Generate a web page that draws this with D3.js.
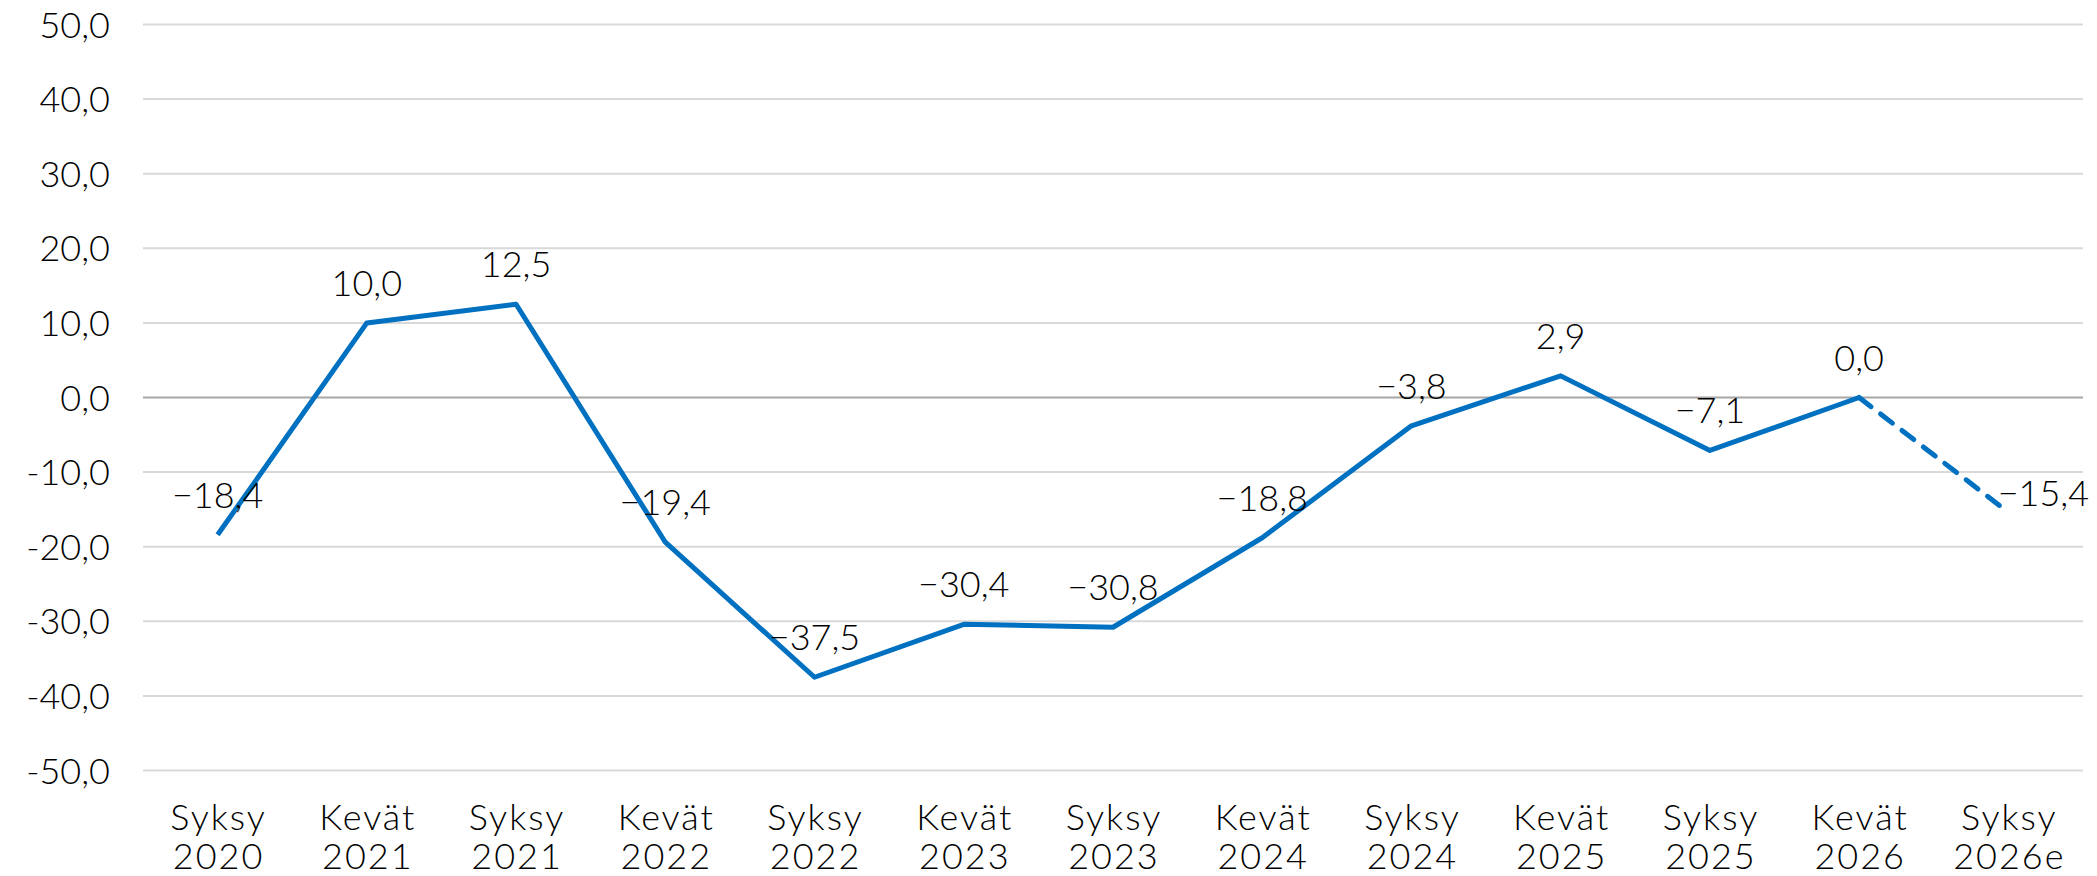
<!DOCTYPE html>
<html><head><meta charset="utf-8">
<script src="https://cdn.jsdelivr.net/npm/d3@7"></script>
<style>
html,body{margin:0;padding:0;background:#fff;}
svg{display:block;}
text{font-family:Lato,"Noto Sans",sans-serif;font-weight:300;fill:#000;}
</style></head><body>
<svg id="c" width="2097" height="876"></svg>
<script>
const seasons = ["Syksy","Kevät","Syksy","Kevät","Syksy","Kevät","Syksy","Kevät","Syksy","Kevät","Syksy","Kevät","Syksy"];
const years = ["2020","2021","2021","2022","2022","2023","2023","2024","2024","2025","2025","2026","2026e"];
const values = [-18.4, 10.0, 12.5, -19.4, -37.5, -30.4, -30.8, -18.8, -3.8, 2.9, -7.1, 0.0, -15.4];
const yTicks = [50, 40, 30, 20, 10, 0, -10, -20, -30, -40, -50];
const forecastFrom = 11; // index where dashed forecast segment starts

(function(){
const svg = d3.select("#c");
const pLeft = 143, pRight = 2083, pTop = 24.5, pBottom = 770.5;
const x = d3.scaleBand().domain(d3.range(values.length)).range([pLeft, pRight]);
const y = d3.scaleLinear().domain([-50, 50]).range([pBottom, pTop]);
const cx = i => x(i) + x.bandwidth() / 2;
const fmt = v => d3.format(".1f")(Math.abs(v)).replace(".", ",");

svg.append("g").selectAll("line").data(yTicks).join("line")
  .attr("x1", pLeft).attr("x2", pRight)
  .attr("y1", d => y(d)).attr("y2", d => y(d))
  .attr("stroke", d => d === 0 ? "#a6a6a6" : "#d9d9d9")
  .attr("stroke-width", 2);

svg.append("g").selectAll("text").data(yTicks).join("text")
  .attr("x", 110).attr("y", d => y(d) + 13)
  .attr("text-anchor", "end").attr("font-size", 36)
  .text(d => (d < 0 ? "-" : "") + fmt(d));

const xg = svg.append("g");
xg.selectAll("text.s").data(seasons).join("text").attr("class", "s")
  .attr("text-anchor", "middle").attr("font-size", 36).attr("letter-spacing", 2)
  .attr("x", (d, i) => cx(i) + 1).attr("y", 830).text(d => d);
xg.selectAll("text.yr").data(years).join("text").attr("class", "yr")
  .attr("text-anchor", "middle").attr("font-size", 36).attr("letter-spacing", 2)
  .attr("x", (d, i) => cx(i) + 1).attr("y", 869).text(d => d);

const line = d3.line().x(d => cx(d.i)).y(d => y(d.v));
const pts = values.map((v, i) => ({i, v}));
svg.append("path").datum(pts.slice(0, forecastFrom + 1))
  .attr("d", line).attr("fill", "none").attr("stroke", "#0070C0")
  .attr("stroke-width", 5).attr("stroke-linejoin", "round");
svg.append("path").datum(pts.slice(forecastFrom))
  .attr("d", line).attr("fill", "none").attr("stroke", "#0070C0")
  .attr("stroke-width", 5).attr("stroke-dasharray", "15,12").attr("stroke-linecap", "round");

svg.append("g").selectAll("text").data(pts).join("text")
  .attr("font-size", 36).attr("text-anchor", "middle")
  .attr("x", d => d.i === values.length - 1 ? cx(d.i) + 35 : cx(d.i))
  .attr("y", d => d.i === values.length - 1 ? y(d.v) - 6 : y(d.v) - 27)
  .text(d => (d.v < 0 ? "\u2212" : "") + fmt(d.v));
})();
</script>
</body></html>
